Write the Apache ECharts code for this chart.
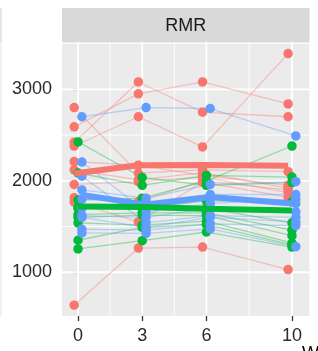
<!DOCTYPE html>
<html>
<head>
<meta charset="utf-8">
<script src="https://cdn.jsdelivr.net/npm/echarts@6/dist/echarts.min.js"></script>
<style>
html,body{margin:0;padding:0;background:#fff;}
#chart{width:318px;height:351px;}
</style>
</head>
<body>
<div id="chart"></div>
<script>
// ---- data ----
const weeks = [0, 3, 6, 10];
const xTicks = [0, 3, 6, 10];
const xMinorTicks = [1.5, 4.5, 8];
const yTicks = [1000, 2000, 3000];
const yMinorTicks = [1500, 2500, 3500];
const facetLabel = 'RMR';
const xTitle = 'Week';

const redSubjects = [
  [2800, 2085, 2120, 2100],
  [2590, 2950, 3080, 2840],
  [2420, 3080, 2750, 2700],
  [2380, 2700, 2370, 3390],
  [2210, 2170, 2060, 1950],
  [2120, 2010, 2090, 1920],
  [1960, 1990, 2040, 1870],
  [1815, 1770, 2000, 1900],
  [1770, 1550, 1985, 1820],
  [640, 1265, 1275, 1030]
];
const greenSubjects = [
  [2425, 2036, 1950, 1980],
  [2085, 1950, 2060, 2040],
  [1790, 1810, 2000, 2380],
  [1715, 1700, 1780, 1770],
  [1700, 1760, 1700, 1540],
  [1630, 1650, 1650, 1460],
  [1600, 1625, 1620, 1400],
  [1540, 1515, 1560, 1320],
  [1350, 1490, 1520, 1300],
  [1255, 1345, 1440, 1275]
];
const blueSubjects = [
  [2700, 2800, 2790, 2490],
  [2205, 1660, 1750, 1800],
  [2050, 1540, 1620, 1600],
  [1900, 1810, 1960, 1990],
  [1800, 1770, 1850, 1850],
  [1700, 1715, 1800, 1750],
  [1620, 1600, 1700, 1660],
  [1600, 1490, 1600, 1550],
  [1470, 1460, 1530, 1510],
  [1430, 1425, 1475, 1280]
];
const redMean = [2080, 2170, 2172, 2165];
const greenMean = [1718, 1714, 1694, 1676];
const blueMean = [1846, 1738, 1822, 1748];

// ---- styling ----
const X_MIN = -0.75, X_MAX = 10.82, Y_MIN = 522, Y_MAX = 3517;
const FONT = 'Liberation Sans, Arial, sans-serif';
const groups = [
  {color: '#F8766D', subjects: redSubjects, mean: redMean, dodge: -0.18},
  {color: '#00BA38', subjects: greenSubjects, mean: greenMean, dodge: 0},
  {color: '#619CFF', subjects: blueSubjects, mean: blueMean, dodge: 0.18}
];

function toPts(vals, dodge) {
  return vals.map((v, i) => [weeks[i] + dodge, v]);
}
function gridSeries(pts, width) {
  return {type: 'line', data: pts, showSymbol: false, silent: true, animation: false, z: 1,
          lineStyle: {color: '#FFFFFF', width: width, opacity: 1}};
}

const series = [];
xMinorTicks.forEach(v => series.push(gridSeries([[v, Y_MIN], [v, Y_MAX]], 0.9)));
yMinorTicks.forEach(v => series.push(gridSeries([[X_MIN, v], [X_MAX, v]], 0.9)));
xTicks.forEach(v => series.push(gridSeries([[v, Y_MIN], [v, Y_MAX]], 1.8)));
yTicks.forEach(v => series.push(gridSeries([[X_MIN, v], [X_MAX, v]], 1.8)));

// individual lines
groups.forEach(g => {
  g.subjects.forEach(s => {
    series.push({
      type: 'line', data: toPts(s, g.dodge), showSymbol: false, silent: true,
      animation: false, z: 2,
      lineStyle: {color: g.color, width: 1.3, opacity: 0.38}
    });
  });
});
// points
groups.forEach(g => {
  const pts = [];
  g.subjects.forEach(s => toPts(s, g.dodge).forEach(p => pts.push(p)));
  series.push({
    type: 'scatter', data: pts, symbol: 'circle', symbolSize: 9.5, silent: true,
    animation: false, z: 3,
    itemStyle: {color: g.color, opacity: 1, borderWidth: 0}
  });
});
// mean lines (red, blue, green on top)
[groups[0], groups[2], groups[1]].forEach(g => {
  series.push({
    type: 'line', data: toPts(g.mean, g.dodge), showSymbol: false, silent: true,
    animation: false, z: 4,
    lineStyle: {color: g.color, width: 6, opacity: 1, cap: 'butt'}
  });
});

const chart = echarts.init(document.getElementById('chart'), null, {renderer: 'canvas'});
const gridL = 62, gridT = 42, gridW = 247.5, gridH = 274;
chart.setOption({
  animation: false,
  backgroundColor: '#fff',
  grid: {left: gridL, top: gridT, width: gridW, height: gridH, show: true,
         backgroundColor: '#EBEBEB', borderWidth: 0},
  xAxis: {
    type: 'value', min: X_MIN, max: X_MAX,
    axisLine: {show: false},
    splitLine: {show: false},
    axisTick: {show: true, customValues: xTicks, length: 5, lineStyle: {color: '#333', width: 1.3}},
    axisLabel: {show: true, customValues: xTicks, margin: 11, fontSize: 18,
                fontFamily: FONT, color: '#2a2a2a', formatter: v => String(v)}
  },
  yAxis: {
    type: 'value', min: Y_MIN, max: Y_MAX,
    axisLine: {show: false},
    splitLine: {show: false},
    axisTick: {show: true, customValues: yTicks, length: 5, lineStyle: {color: '#333', width: 1.3}},
    axisLabel: {show: true, customValues: yTicks, margin: 10, fontSize: 18,
                fontFamily: FONT, color: '#2a2a2a', formatter: v => String(v)}
  },
  graphic: [
    {type: 'rect', shape: {x: gridL, y: 8, width: gridW, height: 34}, style: {fill: '#D9D9D9'}, silent: true},
    {type: 'text', x: gridL + gridW / 2, y: 26, style: {text: facetLabel, fontSize: 18,
      fontFamily: FONT, fill: '#1a1a1a', align: 'center', verticalAlign: 'middle'}, silent: true},
    {type: 'rect', shape: {x: 0, y: 8, width: 1.8, height: 34}, style: {fill: '#E2E2E2'}, silent: true},
    {type: 'rect', shape: {x: 0, y: 42, width: 1.8, height: 274}, style: {fill: '#F0F0F0'}, silent: true},
    {type: 'text', x: 302, y: 345, style: {text: xTitle, fontSize: 18,
      fontFamily: FONT, fill: '#000', align: 'left', verticalAlign: 'top'}, silent: true}
  ],
  series: series
});
</script>
</body>
</html>
